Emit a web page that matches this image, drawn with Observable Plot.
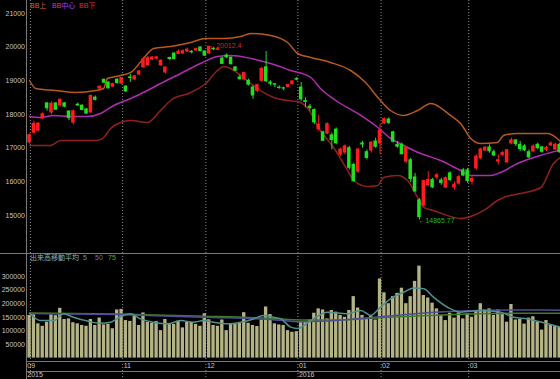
<!DOCTYPE html>
<html><head><meta charset="utf-8">
<script src="https://cdn.jsdelivr.net/npm/d3@7"></script>
<script src="https://cdn.jsdelivr.net/npm/@observablehq/plot@0.6"></script>
<style>
html,body{margin:0;padding:0;background:#000;}
#chart{position:relative;width:560px;height:379px;background:#000;overflow:hidden;font-family:"Liberation Sans",sans-serif;}
#chart svg{position:absolute;left:0;}
.hl{position:absolute;height:0;border-top:1px solid #777;}
.vl{position:absolute;width:0;border-left:1px solid #777;}
.lg{position:absolute;font-size:7px;line-height:8px;white-space:nowrap;font-family:"Liberation Sans","Noto Sans CJK JP",sans-serif;}
</style></head><body><div id="chart"></div><script>
// ---- data (Sep 30 2015 .. Mar 30 2016, daily) ----
const open  = [17170,17460,17520,17880,18330,18060,18330,18270,18330,18090,17760,18290,18260,18150,18060,18500,18770,19030,18950,18830,19030,18920,18830,19100,19040,19190,19400,19460,19630,19660,19460,19250,19680,19810,19800,19810,19870,19860,19900,19990,19870,19810,19950,19920,19660,19750,19690,19400,19100,19040,19000,18800,18700,19000,19400,18950,18900,18800,18780,18820,18900,19050,18800,18400,18230,18130,17560,17470,17430,17380,17550,16810,16870,17000,16500,16300,17140,16880,16930,17200,17140,17730,17850,17470,17100,17100,16600,16640,16130,15450,15300,15900,16050,16130,16040,15830,16250,15830,15950,16340,16340,16000,16400,16700,16930,17020,16880,16600,16800,16580,17140,17230,17100,17050,16880,16900,17100,17020,16950,17080,16960,17100];
const high  = [17420,17800,17760,18050,18350,18380,18340,18460,18350,18100,18130,18340,18290,18180,18570,18550,18850,19050,18960,18930,19070,19100,18850,19200,19160,19300,19700,19720,19720,19720,19630,19420,19700,19830,19920,19920,19970,19900,19970,20000,19890,20012.4,19990,19990,19700,19800,19700,19420,19170,19260,19050,18850,18900,19400,19869,19000,18920,18850,18810,18900,19000,19100,18950,18500,18300,18170,17975,17500,17750,17450,17600,17000,17100,17050,16550,16980,17200,16950,17200,17300,17700,17900,17900,17500,17200,17150,17050,16700,16250,15500,16050,16300,16100,16250,16100,16150,16300,16000,16200,16400,16400,16150,16800,17000,17050,17100,16950,16800,16900,16950,17300,17250,17200,17100,16950,17100,17150,17050,17050,17200,17150,17150];
const low   = [17120,17420,17480,17860,18100,17990,18120,18220,18200,17820,17700,18240,18120,18000,18040,18400,18740,18920,18760,18800,18900,18880,18660,18950,19000,19150,19380,19440,19600,19620,19430,19200,19600,19620,19780,19790,19850,19800,19880,19870,19720,19790,19900,19900,19480,19660,19480,19280,19030,19000,18850,18450,18650,18950,18950,18850,18800,18750,18700,18800,18880,19000,18390,18200,18100,17700,17500,17200,17400,16950,17100,16750,16800,16350,15990,16250,17000,16650,16850,17000,16800,17700,17700,17150,17000,16800,16550,15980,15700,14865.77,15250,15850,15800,16050,15900,15800,16000,15750,15900,16150,15950,15900,16350,16650,16900,16850,16750,16500,16750,16550,17100,17050,16900,16900,16700,16880,16950,16850,16900,17050,16930,16850];
const close = [17388,17722,17725,18005,18186,18322,18141,18438,18234,17891,18096,18270,18131,18029,18554,18435,18825,18947,18777,18903,18935,19083,18683,19080,19130,19280,19642,19671,19691,19697,19596,19393,19649,19648,19859,19879,19924,19847,19944,19883,19747,20012,19938,19939,19504,19698,19492,19301,19046,19230,18883,18565,18870,19353,18986,18916,18886,18789,18769,18873,18982,19033,18450,18374,18191,17767,17697,17218,17715,17240,17147,16955,17048,16416,16017,16958,17110,16708,17163,17041,17518,17865,17750,17191,17044,16819,17004,16085,15713,14952,16022,16054,15836,16196,15967,16111,16052,15915,16140,16188,16026,16085,16746,16960,17014,16911,16783,16642,16852,16938,17233,17117,16974,16936,16724,17048,17000,16892,17002,17134,17103,16879];
const volume = [157000,159000,126000,117000,132000,159000,156000,183000,142000,144000,130000,126000,120000,117000,142000,120000,147000,122000,124000,108000,177000,179000,138000,135000,154000,120000,166000,132000,128000,134000,101000,142000,126000,124000,136000,111000,131000,131000,124000,117000,163000,141000,120000,117000,140000,101000,124000,124000,130000,167000,128000,120000,116000,140000,188000,160000,126000,122000,120000,101000,95000,97000,134000,131000,140000,165000,181000,177000,144000,175000,169000,157000,150000,175000,226000,184000,157000,144000,153000,140000,291000,240000,200000,226000,238000,257000,200000,226000,282000,338000,230000,221000,202000,181000,157000,138000,165000,147000,166000,144000,163000,150000,172000,200000,177000,181000,157000,177000,160000,132000,197000,140000,142000,125000,147000,152000,132000,103000,138000,120000,116000,113000];
// Bollinger bands: [day index, value]
const bbUpper = [[0,19010],[1.4,18772],[5.9,18713],[10.5,18654],[15.1,18713],[16.9,18772],[17.8,19070],[20.8,19159],[23.1,19248],[26,19664],[28.3,19960],[32.2,20020],[36.8,20139],[40.2,20257],[44.3,20257],[48.2,20317],[50.5,20406],[55,20347],[58.9,20139],[61.2,19812],[64.2,19693],[68.7,19545],[73.3,19307],[76.7,18950],[79.7,18476],[82.4,18119],[85.4,17971],[88.6,18119],[91.6,18327],[96.1,17971],[98.4,17733],[100.7,17288],[103,17139],[106.8,17169],[108.2,17377],[111.4,17436],[118.3,17436],[121.2,17200]];
const bbMiddle = [[0,17941],[2.5,17911],[5.5,17970],[9.4,17941],[13.2,17941],[16.2,18030],[19.2,18268],[23.1,18476],[26.9,18713],[29.9,18921],[34.5,19218],[39,19515],[42.9,19723],[45.9,19753],[50.5,19664],[55,19515],[59.6,19307],[64.2,19099],[66.4,18773],[69.9,18416],[74.9,18030],[79.5,17614],[82.4,17288],[85.4,17080],[89.3,16842],[93.8,16634],[98.4,16337],[100.7,16189],[105.3,16189],[107.5,16278],[111.4,16545],[115.1,16723],[121.2,16950]];
const bbLower = [[0,17080],[4.8,17080],[7.1,17228],[15.5,17228],[16.9,17317],[18.5,17585],[20.8,17763],[23.1,17822],[26.9,17763],[29.9,18119],[32.2,18416],[36.8,18654],[40.2,18921],[42.9,19307],[44.3,19426],[45.9,19367],[48.2,19159],[50.5,18921],[53.4,18654],[55.7,18505],[58.9,18416],[61.2,18386],[63.5,18178],[66.4,17525],[69.4,17020],[72.6,16337],[74,16040],[77.2,15862],[79.5,15892],[80.8,16129],[84,16189],[86.3,16040],[88.6,15535],[90,15238],[92.2,15149],[98.4,14911],[100.7,14971],[103.7,15149],[106.8,15446],[108.2,15535],[112.1,15654],[116.7,15832],[119.6,16545],[121.2,16723]];
// volume moving averages: [day index, value]
const ma5 = [[0,165000],[2.5,138000],[5.5,138000],[7.8,163000],[10,150000],[13.2,136000],[16.2,128000],[18.5,132000],[20.8,153000],[23.1,163000],[25.3,144000],[28.3,132000],[31.5,126000],[34.5,138000],[37.4,132000],[39.7,138000],[42,132000],[45.2,126000],[48.2,132000],[51.1,144000],[53.4,157000],[55.7,150000],[57.3,145000],[59.6,114000],[61.2,109000],[64.2,138000],[68,169000],[72.6,163000],[75.6,175000],[77.9,157000],[80.1,187000],[82.4,218000],[85.4,242000],[87.7,258000],[90,255000],[92.2,224000],[95.4,187000],[98.4,169000],[103,175000],[107.5,169000],[110.5,150000],[113.7,144000],[118.3,126000],[121.2,114000]];
const ma50 = [[0,164000],[20,160000],[40,150000],[55,142000],[62,134000],[70,138000],[80,152000],[90,166000],[100,174000],[110,177000],[121.2,176000]];
const ma75 = [[0,166000],[20,162000],[40,154000],[55,146000],[62,140000],[70,140000],[80,148000],[90,156000],[100,162000],[110,165000],[121.2,165000]];
const priceTicks = [15000,16000,17000,18000,19000,20000,21000];
const volumeTicks = [50000,100000,150000,200000,250000,300000];
const monthStarts = [0,22,41,62,81,101];
const monthLabels = ["09","11","12","01","02","03"];
const yearStarts = [0,62];
const yearLabels = ["2015","2016"];

// ---- styles ----
const C = {up:"#ff1c1c", down:"#1fe01f", upper:"#b8581e", mid:"#b02cb0", lower:"#901f1f",
  grid:"#8c8c8c", axis:"#c6c6c6", vol:"#b3b386", ma5:"#4f9090", ma50:"#4d4d98", ma75:"#3f7d24"};
const FONT = '"Liberation Sans",sans-serif';
const xDomain = [-0.7, 121.2];
const W = 560;
const lx = d => d - 0.75;                 // month boundary, just left of the month's first bar
const gx = d => Math.max(lx(d), 0.2);     // separator line kept inside the frame

const candles = close.map((c,i)=>({i, o:open[i], h:high[i], l:low[i], c}));
const up = candles.filter(d=>d.c>=d.o), dn = candles.filter(d=>d.c<d.o);
const hiI = d3.maxIndex(high), loI = d3.minIndex(low);
const pt = a => a.map(([i,v])=>({i,v}));

const price = Plot.plot({
  width: W, height: 253, marginLeft: 26, marginRight: 0, marginTop: 0, marginBottom: 0,
  style: {background:"transparent", color:C.axis, fontFamily:FONT, fontSize:"7px"},
  x: {domain:xDomain, axis:null},
  y: {domain:[13871,21386], axis:null},
  marks: [
    Plot.ruleX(monthStarts, {x:gx, stroke:C.grid, strokeDasharray:"1,2"}),
    Plot.axisY(priceTicks, {tickSize:0, tickPadding:1.5, tickFormat:d=>String(d), fill:C.axis, fontSize:7, label:null}),
    Plot.line(pt(bbUpper), {x:"i", y:"v", stroke:C.upper, curve:"monotone-x"}),
    Plot.line(pt(bbMiddle), {x:"i", y:"v", stroke:C.mid, curve:"monotone-x"}),
    Plot.line(pt(bbLower), {x:"i", y:"v", stroke:C.lower, curve:"monotone-x"}),
    Plot.ruleX(up, {x:"i", y1:"l", y2:"h", stroke:C.up}),
    Plot.ruleX(dn, {x:"i", y1:"l", y2:"h", stroke:C.down}),
    Plot.rect(up, {x1:d=>d.i-0.4, x2:d=>d.i+0.4, y1:"o", y2:"c", fill:C.up, insetTop:-0.5, insetBottom:-0.5}),
    Plot.rect(dn, {x1:d=>d.i-0.4, x2:d=>d.i+0.4, y1:"o", y2:"c", fill:C.down, insetTop:-0.5, insetBottom:-0.5}),
    Plot.text([hiI], {x:d=>d, y:d=>high[d], text:d=>"←"+String(high[d]), textAnchor:"start", dx:0, dy:-1, fill:"#cc2a2a", fontSize:7}),
    Plot.text([loI], {x:d=>d, y:d=>low[d], text:d=>"←"+String(low[d]), textAnchor:"start", dx:-1, dy:1, fill:"#22b822", fontSize:7})
  ]
});

const vols = volume.map((v,i)=>({i,v}));
const vol = Plot.plot({
  width: W, height: 126, marginLeft: 26, marginRight: 0, marginTop: 0, marginBottom: 21.4,
  style: {background:"transparent", color:C.axis, fontFamily:FONT, fontSize:"7px", overflow:"visible"},
  x: {domain:xDomain, axis:null},
  y: {domain:[0,384500], axis:null},
  marks: [
    Plot.ruleX(monthStarts, {x:gx, stroke:C.grid, strokeDasharray:"1,2", insetBottom:-22}),
    Plot.axisY(volumeTicks, {tickSize:0, tickPadding:1.5, tickFormat:d=>String(d), fill:C.axis, fontSize:7, label:null}),
    Plot.rect(vols, {x1:d=>d.i-0.38, x2:d=>d.i+0.38, y1:0, y2:"v", fill:C.vol}),
    Plot.line(pt(ma75), {x:"i", y:"v", stroke:C.ma75, curve:"monotone-x"}),
    Plot.line(pt(ma50), {x:"i", y:"v", stroke:C.ma50, curve:"monotone-x"}),
    Plot.line(pt(ma5), {x:"i", y:"v", stroke:C.ma5, curve:"monotone-x"}),
    Plot.text(monthStarts, {x:lx, text:(d,i)=>monthLabels[i], frameAnchor:"bottom", dy:9.5, dx:1, textAnchor:"start", fill:C.axis, fontSize:7}),
    Plot.text(yearStarts, {x:lx, text:(d,i)=>yearLabels[i], frameAnchor:"bottom", dy:19, dx:1, textAnchor:"start", fill:C.axis, fontSize:7})
  ]
});

const root = document.getElementById("chart");
price.style.top = "0px";
vol.style.top = "253px";
root.appendChild(price);
root.appendChild(vol);

function addDiv(cls, css, html){ const d=document.createElement("div"); d.className=cls; d.style.cssText=css; if(html) d.innerHTML=html; root.appendChild(d); }
addDiv("hl","left:0;top:253px;width:560px;");
addDiv("hl","left:26px;top:361px;width:534px;");
addDiv("hl","left:26px;top:371px;width:534px;");
addDiv("vl","left:26px;top:0;height:379px;");
addDiv("lg","left:30px;top:2px;color:#d8632a;","BB上");
addDiv("lg","left:52px;top:2px;color:#c23ccc;","BB中心");
addDiv("lg","left:79px;top:2px;color:#e02a2a;","BB下");
addDiv("lg","left:30px;top:254px;color:#8fb4b4;","出来高移動平均");
addDiv("lg","left:83px;top:254px;color:#5fa0a0;","5");
addDiv("lg","left:95px;top:254px;color:#6e6ec0;","50");
addDiv("lg","left:108px;top:254px;color:#6aa534;","75");
</script></body></html>
